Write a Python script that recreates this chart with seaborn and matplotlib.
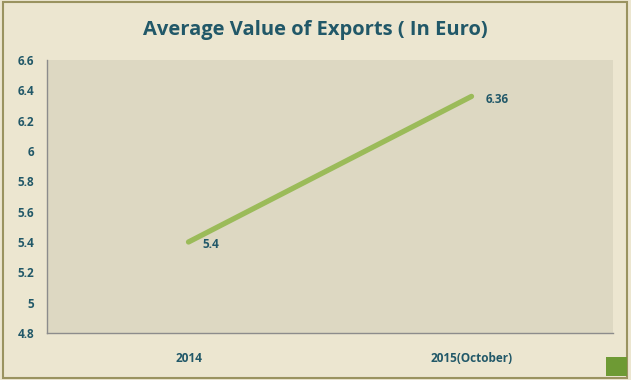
import matplotlib
matplotlib.use("Agg")
import matplotlib.pyplot as plt
import seaborn as sns
import pandas as pd
from matplotlib.patches import Rectangle

# data
periods = ["2014", "2015(October)"]
values = [5.4, 6.36]
value_labels = ["5.4", "6.36"]
y_ticks = [4.8, 5.0, 5.2, 5.4, 5.6, 5.8, 6.0, 6.2, 6.4, 6.6]
y_tick_labels = ["4.8", "5", "5.2", "5.4", "5.6", "5.8", "6", "6.2", "6.4", "6.6"]

df = pd.DataFrame({"period": periods, "value": values})

text_col = "#215868"
sns.set_style("white")
plt.rcParams["font.family"] = ["Open Sans", "DejaVu Sans"]

fig = plt.figure(figsize=(6.31, 3.80), dpi=100)
fig.patch.set_facecolor("#ECE6D0")
# outer frame
fig.patches.append(Rectangle((0.004, 0.006), 0.99, 0.988, transform=fig.transFigure,
                             fill=False, edgecolor="#9A9360", linewidth=1.5))
# small logo box bottom right
fig.patches.append(Rectangle((606/631, 4/380), 21/631, 19/380, transform=fig.transFigure,
                             facecolor="#6E9A34", edgecolor="none"))

ax = fig.add_axes([47/631, 1-333/380, 566/631, 273/380])
ax.set_facecolor("#DDD8C2")

sns.lineplot(data=df, x="period", y="value", ax=ax, color="#9BBB59",
             linewidth=3.8, solid_capstyle="round", sort=False)

for i, (v, lab) in enumerate(zip(values, value_labels)):
    ax.annotate(lab, (i, v), xytext=(10, -2), textcoords="offset points",
                ha="left", va="center", fontsize=8.5, fontweight="bold", color=text_col)

ax.set_xlim(-0.5, 1.5)
ax.set_ylim(4.8, 6.6)
ax.set_yticks(y_ticks)
ax.set_yticklabels(y_tick_labels)
ax.set_xlabel("")
ax.set_ylabel("")
ax.tick_params(axis="y", length=5, color="#8C8C8C", labelsize=8.5, labelcolor=text_col, pad=4)
ax.tick_params(axis="x", length=0, labelsize=8.5, labelcolor=text_col, pad=14)
for lab in ax.get_xticklabels() + ax.get_yticklabels():
    lab.set_fontweight("bold")

for s in ["top", "right"]:
    ax.spines[s].set_visible(False)
for s in ["left", "bottom"]:
    ax.spines[s].set_color("#8C8C8C")
    ax.spines[s].set_linewidth(1)

fig.text(0.5, 1-30/380, "Average Value of Exports ( In Euro)", ha="center", va="center",
         fontsize=14.5, fontweight="bold", color=text_col)

fig.savefig("out.png", dpi=100, facecolor=fig.get_facecolor())
